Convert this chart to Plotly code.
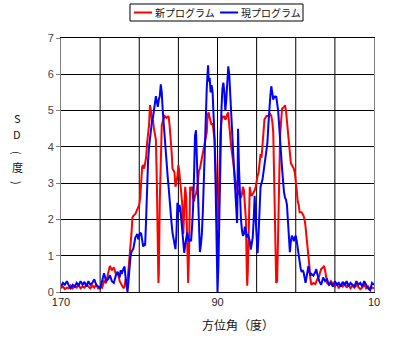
import plotly.graph_objects as go

new_x = [170,169,168,167,166,165,164,163,162,161,160,159,158,157,156,155,154,153,152,151,150,149,148,147,146,145,144,143,142,141,140,139,138,137.5,137,136,135.5,135,134.5,134,133.5,133,132,131,130,129.5,129,128.5,128,127.5,127,126.5,126,125.5,125,124.5,124,123.5,123,122.5,122,121.5,121,120.5,120.2,120,119.5,119,118.5,118,117,116,115,114.5,114,113.5,113,112,111.5,111,110.5,110,109.5,109,108.5,108,107.5,107,106.5,106,105.5,105,104.5,104,103.5,103,102.5,102,101.5,101,100,99.5,99,98,97.5,97,96,95.5,95,94.5,94,93.5,93,92.5,92,91.5,91,90.5,90,89.5,89,88.5,88,87.5,87,86.5,86,85.5,85,84.5,84,83.5,83,82,81.5,81,80.5,80,79.5,79,78.5,78,77.5,77,76.5,76,75.5,75,74.8,74.5,74,73.5,73,72.5,72,71,70.5,70,69.5,69,68.5,68,67.5,67,66.5,66,65.5,65,64,63,62.5,62,61.5,61,60.5,60,59.5,59,58.5,58,57.5,57,56,55.5,55,54.5,54,53.5,53,52.5,52,51,50.5,50,49.5,49,48.5,48,47,46,45.5,45,44.5,44,43.5,43,42.5,42,41,40,39,38,37.5,37,36,35.5,35,34.5,34,33,32,31,30,29,28,27,26,25,24,23,22,21,20,19,18,17,16,15,14,13,12,11,10]
new_y = [0.1,0.15,0.08,0.12,0.1,0.18,0.1,0.15,0.12,0.2,0.1,0.15,0.12,0.2,0.15,0.1,0.18,0.12,0.2,0.1,0.15,0.12,0.3,0.25,0.5,0.72,0.6,0.68,0.5,0.55,0.3,0.2,0.1,0.15,0.35,0.3,0.6,0.9,1.1,1.6,2.05,2.1,2.15,2.3,2.4,2.6,3.0,3.45,3.5,3.4,3.55,3.7,4.1,4.3,4.6,5.15,5.0,4.7,4.75,4.5,4.3,4.2,3.0,1.0,0.25,0.5,2.5,4.0,4.6,4.7,4.85,4.8,4.85,4.6,4.3,3.9,3.4,3.3,2.9,3.0,3.2,3.5,3.3,3.0,2.6,2.4,1.6,2.2,2.9,2.6,1.5,0.25,1.2,2.9,2.8,2.9,2.6,2.5,2.65,2.7,3.0,3.35,3.4,3.7,3.8,4.0,4.3,4.4,4.9,4.95,4.8,4.7,4.6,4.65,4.3,4.2,3.5,2.2,1.7,2.4,4.0,4.4,4.7,4.85,4.8,4.85,4.75,4.8,4.9,4.95,4.6,4.2,4.0,3.6,3.3,3.1,3.0,2.8,2.75,2.7,2.65,2.6,2.7,2.9,2.8,2.5,2.0,0.5,0.17,0.6,2.2,2.9,2.7,2.65,2.7,2.8,2.9,3.1,3.2,3.3,3.5,3.8,3.7,4.1,4.5,4.75,4.8,4.85,4.85,4.9,4.85,4.7,4.4,3.2,1.2,0.25,0.3,1.5,3.5,4.3,4.7,5.05,5.1,5.15,5.0,4.7,4.5,4.3,3.8,3.55,3.5,3.4,3.3,3.1,2.8,2.5,2.4,2.2,2.2,2.1,2.0,1.8,1.55,1.3,1.1,0.7,0.35,0.2,0.25,0.22,0.35,0.44,0.55,0.63,0.68,0.72,0.6,0.35,0.25,0.2,0.3,0.22,0.15,0.25,0.1,0.2,0.15,0.25,0.12,0.2,0.1,0.18,0.12,0.2,0.15,0.08,0.12,0.2,0.1,0.15,0.08,0.12,0.1]

cur_x = [170,169,168,167,166,165,164,163,162,161,160,159,158,157,156,155,154,153,152,151,150,149,148,147,146,145,144,143,142,141,140,139.5,139,138,137.5,137,136.5,136,135.5,135,134.5,134,133,132.5,132,131,130.5,130,129.5,129,128.5,128,127.5,127,126.5,126,125.5,125,124.5,124,123.5,123,122.5,122,121.5,121,120.5,120,119.5,119,118.5,118,117.5,117,116.5,116,115.5,115,114.5,114,113.5,113,112.5,112,111.5,111,110.5,110,109.5,109,108.5,108,107.5,107,106.5,106,105.5,105,104.5,104,103.5,103,102.5,102,101.5,101,100.5,100,99.5,99,98.5,98,97.5,97,96.5,96,95.5,95,94.8,94.5,94,93.5,93,92.5,92,91.5,91,90.5,90,89.5,89,88.5,88,87.5,87,86.5,86,85.5,85,84.5,84,83.5,83,82.5,82,81.5,81,80.5,80,79.8,79.5,79,78.5,78,77.5,77,76.5,76,75.5,75,74.5,74,73.5,73,72.5,72,71.5,71,70.5,70,69.5,69,68.5,68,67,66.5,66,65.5,65,64.5,64,63.5,63,62.5,62,61.5,61,60.5,60,59.5,59,58.5,58,57.5,57,56.5,56,55.5,55,54.5,54,53.5,53,52.5,52,51.5,51,50.5,50,49.5,49,48.5,48,47.5,47,46.5,46,45.5,45,44.5,44,43.5,43,42.5,42,41,40,39.5,39,38,37,36,35,34,33,32,31,30,29,28,27,26,25,24,23,22,21,20,19,18,17,16,15,14,13,12,11,10]
cur_y = [0.15,0.25,0.2,0.3,0.18,0.1,0.2,0.15,0.25,0.18,0.3,0.2,0.28,0.15,0.3,0.2,0.25,0.35,0.2,0.15,0.1,0.3,0.52,0.3,0.35,0.46,0.3,0.25,0.45,0.55,0.4,0.6,0.5,0.65,0.7,0.4,0.1,0.0,0.3,0.8,0.97,1.1,1.2,1.35,1.5,1.6,1.45,1.55,1.64,1.6,1.4,1.25,1.3,1.28,2.0,2.9,3.6,4.0,4.3,4.4,4.7,4.8,5.1,5.2,5.4,5.2,5.1,5.3,5.4,5.72,5.5,5.0,4.6,4.3,3.8,3.4,3.2,2.9,2.5,2.3,1.9,1.63,1.5,1.3,1.18,1.6,2.46,2.2,2.4,2.3,2.0,1.6,1.3,1.08,1.3,1.5,1.64,1.5,1.4,1.45,1.4,1.8,2.3,3.2,4.3,4.46,3.6,2.5,1.6,1.1,1.3,1.6,2.2,3.1,4.2,4.9,5.6,6.1,6.25,5.8,5.9,5.5,5.7,5.5,5.0,4.2,3.0,1.2,0.0,0.8,2.46,4.2,5.0,5.6,5.77,5.5,5.0,5.3,5.8,6.22,6.0,5.3,5.0,4.4,3.85,3.3,2.9,2.3,1.9,2.5,4.5,3.4,2.6,2.0,1.7,1.55,1.6,1.8,1.7,1.5,1.6,1.5,1.4,1.17,1.3,1.5,2.0,2.65,2.0,1.4,1.07,1.6,2.5,2.9,3.1,3.3,3.4,3.6,3.8,4.1,4.6,5.1,5.4,5.67,5.5,5.3,5.4,5.35,5.4,5.2,5.0,4.6,4.3,3.8,3.4,2.9,2.75,2.6,2.55,2.4,2.0,1.5,1.1,1.4,1.55,1.5,1.4,1.5,1.55,1.4,1.2,1.0,0.72,0.65,0.55,0.6,0.55,0.4,0.25,0.4,0.6,0.72,0.55,0.45,0.5,0.45,0.55,0.63,0.5,0.3,0.2,0.4,0.3,0.35,0.2,0.25,0.15,0.3,0.2,0.25,0.15,0.28,0.2,0.3,0.15,0.25,0.2,0.15,0.3,0.2,0.25,0.15,0.3,0.2,0.1,0.05,0.25,0.2]

series_names = ["新プログラム", "現プログラム"]
series_colors = ["#ff0000", "#0000ff"]
x_ticks = [170, 90, 10]
x_grid = [170, 150, 130, 110, 90, 70, 50, 30, 10]
y_ticks = [0, 1, 2, 3, 4, 5, 6, 7]
y_title_chars = ["S", "D", "(", "度", ")"]

fig = go.Figure()
for xs, ys_, nm, col in zip([new_x, cur_x], [new_y, cur_y], series_names, series_colors):
    fig.add_trace(go.Scatter(x=xs, y=ys_, mode="lines", name=nm,
                             line=dict(color=col, width=2)))

font = "Noto Sans CJK JP"
fig.update_layout(
    width=408, height=351,
    margin=dict(l=61, r=34, t=38, b=59),
    paper_bgcolor="white", plot_bgcolor="white",
    font=dict(family=font, size=11, color="#222"),
    showlegend=False,
    xaxis=dict(range=[170, 10], tickmode="array", tickvals=x_ticks,
               ticktext=[str(v) for v in x_ticks], showgrid=False,
               zeroline=False, showline=True, linecolor="#000", mirror=True,
               ticks="", tickfont=dict(size=11, color="#222", family="Liberation Sans")),
    yaxis=dict(range=[0, 7], tickmode="array", tickvals=y_ticks, showgrid=True,
               gridcolor="#000", gridwidth=1, zeroline=False, showline=True,
               linecolor="#808080", mirror=True, ticks="outside", ticklen=4,
               tickcolor="#808080",
               tickfont=dict(size=11, color="#444", family="Liberation Sans")),
)
for g in x_grid[1:-1]:
    fig.add_shape(type="line", xref="x", yref="paper", x0=g, x1=g, y0=0, y1=1,
                  line=dict(color="#000", width=1), layer="below")

# legend box (drawn manually to match the compact original)
fig.add_shape(type="rect", xref="paper", yref="paper", x0=0.2204, x1=0.7732,
              y0=1.0669, y1=1.1339, line=dict(color="#000", width=1),
              fillcolor="white")
leg_line_x = [(0.2332, 0.2907), (0.5080, 0.5655)]
for (x0, x1), nm, col in zip(leg_line_x, series_names, series_colors):
    fig.add_shape(type="line", xref="paper", yref="paper", x0=x0, x1=x1,
                  y0=1.1004, y1=1.1004, line=dict(color=col, width=2))
    fig.add_annotation(text=nm, xref="paper", yref="paper", x=x1, xshift=1,
                       xanchor="left", y=1.1004, yanchor="middle", showarrow=False,
                       font=dict(size=10, color="#111", family=font))

fig.add_annotation(text="方位角（度）", xref="paper", yref="paper", x=0.565, y=0,
                   yshift=-22, yanchor="top", showarrow=False,
                   font=dict(size=12, color="#111", family=font))
ys = [0.685, 0.622, 0.547, 0.492, 0.429]
for ch, yy in zip(y_title_chars, ys):
    rot = 90 if ch in "()" else 0
    fig.add_annotation(text=ch, xref="paper", yref="paper", x=0, xshift=-44,
                       xanchor="center", y=yy, yanchor="middle", showarrow=False,
                       textangle=rot, font=dict(size=11, color="#111", family=font))

fig.write_html("out.html")
